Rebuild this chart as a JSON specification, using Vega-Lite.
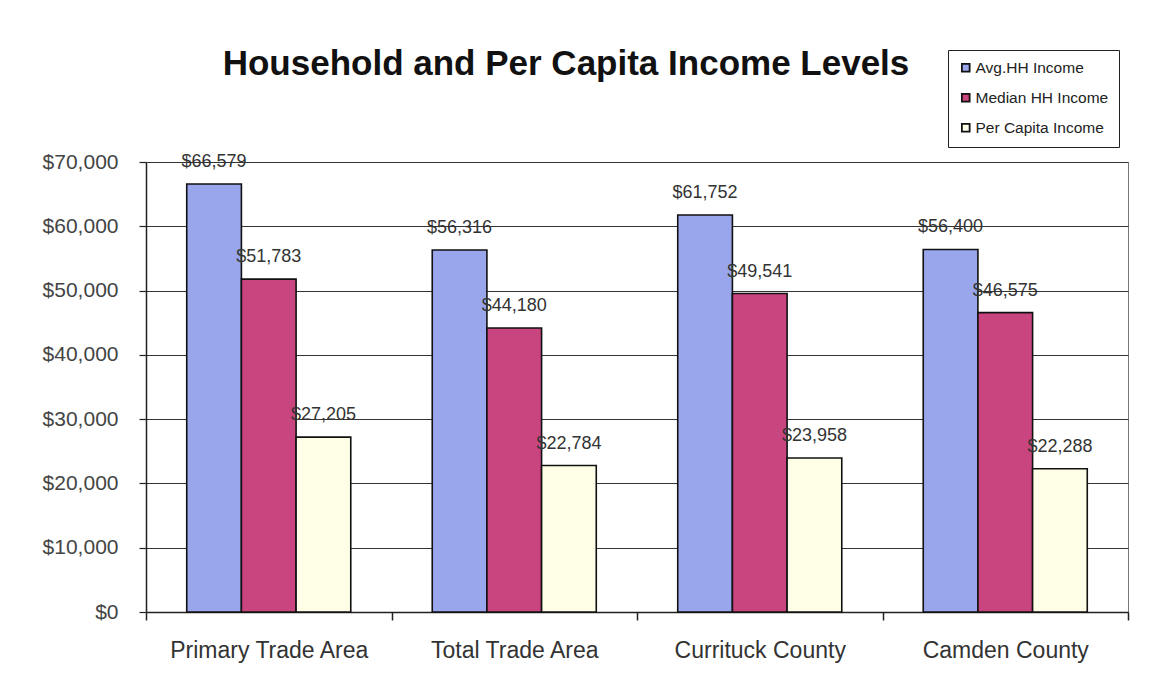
{
  "$schema": "https://vega.github.io/schema/vega-lite/v6.json",
  "width": 982,
  "height": 450,
  "autosize": {"type": "none"},
  "padding": {"left": 146, "top": 162, "right": 46, "bottom": 74},
  "background": "white",
  "title": {
    "text": "Household and Per Capita Income Levels",
    "font": "Liberation Sans",
    "fontSize": 35,
    "fontWeight": "bold",
    "color": "#111111",
    "anchor": "middle",
    "frame": "group",
    "dx": -71,
    "baseline": "alphabetic",
    "offset": -60
  },
  "config": {
    "font": "Liberation Sans",
    "view": {"stroke": "#777777", "strokeWidth": 1}
  },
  "data": {
    "values": [
      {"area": "Primary Trade Area", "series": "Avg.HH Income", "value": 66579},
      {"area": "Primary Trade Area", "series": "Median HH Income", "value": 51783},
      {"area": "Primary Trade Area", "series": "Per Capita Income", "value": 27205},
      {"area": "Total Trade Area", "series": "Avg.HH Income", "value": 56316},
      {"area": "Total Trade Area", "series": "Median HH Income", "value": 44180},
      {"area": "Total Trade Area", "series": "Per Capita Income", "value": 22784},
      {"area": "Currituck County", "series": "Avg.HH Income", "value": 61752},
      {"area": "Currituck County", "series": "Median HH Income", "value": 49541},
      {"area": "Currituck County", "series": "Per Capita Income", "value": 23958},
      {"area": "Camden County", "series": "Avg.HH Income", "value": 56400},
      {"area": "Camden County", "series": "Median HH Income", "value": 46575},
      {"area": "Camden County", "series": "Per Capita Income", "value": 22288}
    ]
  },
  "encoding": {
    "x": {
      "field": "area",
      "type": "nominal",
      "sort": null,
      "scale": {"paddingInner": 0, "paddingOuter": 0},
      "axis": {
        "title": null,
        "labelAngle": 0,
        "labelLimit": 0,
        "labelFontSize": 23,
        "labelColor": "#333333",
        "labelPadding": 19,
        "tickSize": 8,
        "tickColor": "#222222",
        "tickWidth": 1.5,
        "tickBand": "extent",
        "domainColor": "#222222",
        "domainWidth": 1.5
      }
    },
    "xOffset": {
      "field": "series",
      "type": "nominal",
      "sort": ["Avg.HH Income", "Median HH Income", "Per Capita Income"],
      "scale": {"paddingInner": 0, "paddingOuter": 0.745}
    },
    "y": {
      "field": "value",
      "type": "quantitative",
      "scale": {"domain": [0, 70000], "nice": false},
      "axis": {
        "title": null,
        "values": [0, 10000, 20000, 30000, 40000, 50000, 60000, 70000],
        "format": "$,.0f",
        "labelFontSize": 21,
        "labelColor": "#444444",
        "labelPadding": 21,
        "tickSize": 7,
        "tickColor": "#222222",
        "tickWidth": 1.2,
        "domainColor": "#222222",
        "domainWidth": 1.5,
        "grid": true,
        "gridColor": "#333333",
        "gridWidth": 1
      }
    }
  },
  "layer": [
    {
      "mark": {"type": "bar", "stroke": "#111111", "strokeWidth": 1.6},
      "encoding": {
        "fill": {
          "field": "series",
          "type": "nominal",
          "scale": {
            "domain": ["Avg.HH Income", "Median HH Income", "Per Capita Income"],
            "range": ["#9AA6EC", "#C9457F", "#FFFFE8"]
          },
          "legend": {
            "title": null,
            "orient": "none",
            "legendX": 802,
            "legendY": -112,
            "direction": "vertical",
            "symbolType": "square",
            "symbolSize": 60,
            "symbolStrokeColor": "#111111",
            "symbolStrokeWidth": 1.8,
            "labelFontSize": 15.5,
            "labelColor": "#222222",
            "labelOffset": 2,
            "rowPadding": 13,
            "padding": 10,
            "strokeColor": "#222222",
            "fillColor": "white"
          }
        }
      }
    },
    {
      "mark": {"type": "text", "fontSize": 18, "color": "#333333", "baseline": "alphabetic", "dy": -17},
      "encoding": {
        "text": {"field": "value", "type": "quantitative", "format": "$,.0f"}
      }
    }
  ]
}
